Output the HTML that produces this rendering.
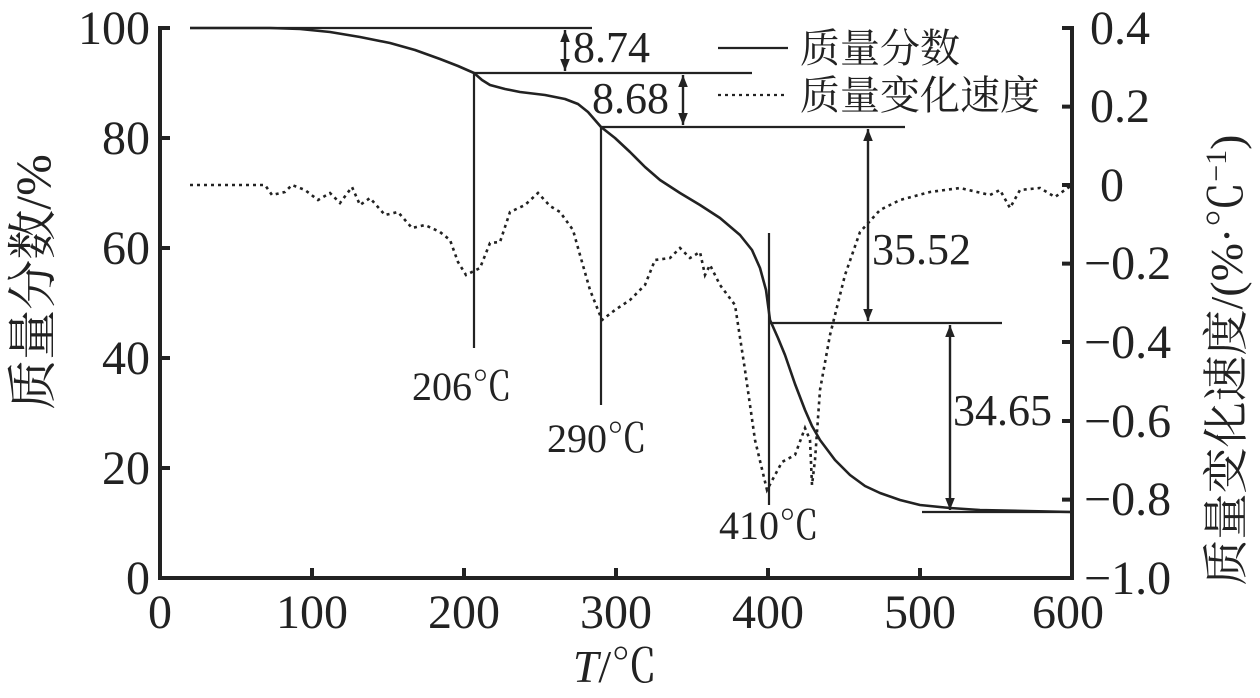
<!DOCTYPE html>
<html><head><meta charset="utf-8"><style>
html,body{margin:0;padding:0;background:#fff;}
svg{display:block;}
text{font-family:"Liberation Serif","Noto Serif CJK SC",serif;fill:#222;}
</style></head><body>
<svg width="1260" height="698" viewBox="0 0 1260 698" xmlns="http://www.w3.org/2000/svg">
<defs>
<marker id="ah" viewBox="0 0 10 10" refX="10" refY="5" markerWidth="12" markerHeight="12" markerUnits="userSpaceOnUse" orient="auto-start-reverse">
<path d="M0,1 L10,5 L0,9 z" fill="#222"/></marker>
</defs>
<g stroke="#222" fill="none">
<path d="M160,26 V578 H1072 V26" stroke-width="4"/>
<path d="M160,28h10M160,138h10M160,248h10M160,358h10M160,468h10" stroke-width="4"/>
<path d="M312,578v-10M464,578v-10M616,578v-10M768,578v-10M920,578v-10" stroke-width="4"/>
<path d="M1072,28h-10M1072,106.6h-10M1072,185h-10M1072,263.6h-10M1072,342h-10M1072,421h-10M1072,499.6h-10" stroke-width="4"/>
<polyline stroke-width="2.6" stroke-linejoin="round" points="190,28 270,28 300,29 330,32 360,37 390,43 415,50 440,59 458,66 474,73 482,80 490,85 505,89 520,92 545,95 565,99 578,104 588,112 601,127 615,138 630,152 645,167 660,180 680,193 700,205 720,218 740,235 752,250 760,268 766,290 770,320 778,338 785,355 795,384 805,410 812,426 820,440 835,460 850,475 865,486 880,493 900,500 920,505 950,508 980,510 1072,512"/>
<polyline stroke-width="2.6" stroke-dasharray="3,4" points="190,185 265,185 272,195 285,192 292,185 305,190 318,200 330,193 340,203 352,187 360,205 370,198 385,215 398,212 412,228 425,225 440,232 450,240 458,262 466,275 480,268 490,243 500,242 510,212 525,205 538,193 550,206 560,212 573,230 580,255 590,290 602,320 615,310 630,300 645,285 655,260 670,258 680,248 690,258 700,252 705,275 710,265 720,285 735,305 745,370 755,440 767,490 782,462 795,455 805,428 810,440 812,485 815,460 820,390 830,335 845,275 860,232 880,210 900,200 930,192 960,188 990,195 1000,190 1010,208 1020,190 1040,188 1055,197 1072,185"/>
<g stroke-width="2.2">
<path d="M190,28H592"/>
<path d="M474,73H752M474,73V348"/>
<path d="M601,127H905M601,127V405"/>
<path d="M768,323H1002M769,233V505"/>
<path d="M922,512H1072"/>
<path d="M718,48H788"/>
</g>
<path d="M718,95H788" stroke-width="2.2" stroke-dasharray="3,4"/>
<g stroke-width="2.4" marker-start="url(#ah)" marker-end="url(#ah)">
<path d="M565,30V71"/>
<path d="M683,75V125"/>
<path d="M868,129V321"/>
<path d="M950,325V510"/>
</g>
</g>
<g font-size="44">
<text x="573" y="62">8.74</text>
<text x="592" y="113">8.68</text>
<text x="872" y="264">35.52</text>
<text x="953" y="425">34.65</text>
</g>
<g font-size="40">
<text x="412" y="400">206℃</text>
<text x="547" y="452">290℃</text>
<text x="719" y="539">410℃</text>
<text x="800" y="62">质量分数</text>
<text x="800" y="109">质量变化速度</text>
</g>
<g font-size="48" text-anchor="end">
<text x="150" y="44">100</text>
<text x="150" y="154">80</text>
<text x="150" y="264">60</text>
<text x="150" y="374">40</text>
<text x="150" y="484">20</text>
<text x="150" y="594">0</text>
</g>
<g font-size="48" text-anchor="middle">
<text x="160" y="628">0</text>
<text x="312" y="628">100</text>
<text x="464" y="628">200</text>
<text x="616" y="628">300</text>
<text x="768" y="628">400</text>
<text x="920" y="628">500</text>
<text x="1068" y="628">600</text>
</g>
<g font-size="48">
<text x="1090" y="44">0.4</text>
<text x="1090" y="122">0.2</text>
<text x="1100" y="201">0</text>
<text x="1084" y="279">−0.2</text>
<text x="1084" y="358">−0.4</text>
<text x="1084" y="437">−0.6</text>
<text x="1084" y="515">−0.8</text>
<text x="1084" y="594">−1.0</text>
</g>
<text x="615" y="682" font-size="46" text-anchor="middle"><tspan font-style="italic">T</tspan>/℃</text>
<text transform="translate(50,282) rotate(-90)" font-size="50" text-anchor="middle">质量分数/%</text>
<text transform="translate(1242,360) rotate(-90)" font-size="46" text-anchor="middle">质量变化速度/(%·℃<tspan dy="-16" font-size="30">−1</tspan><tspan dy="16">)</tspan></text>
</svg>
</body></html>
